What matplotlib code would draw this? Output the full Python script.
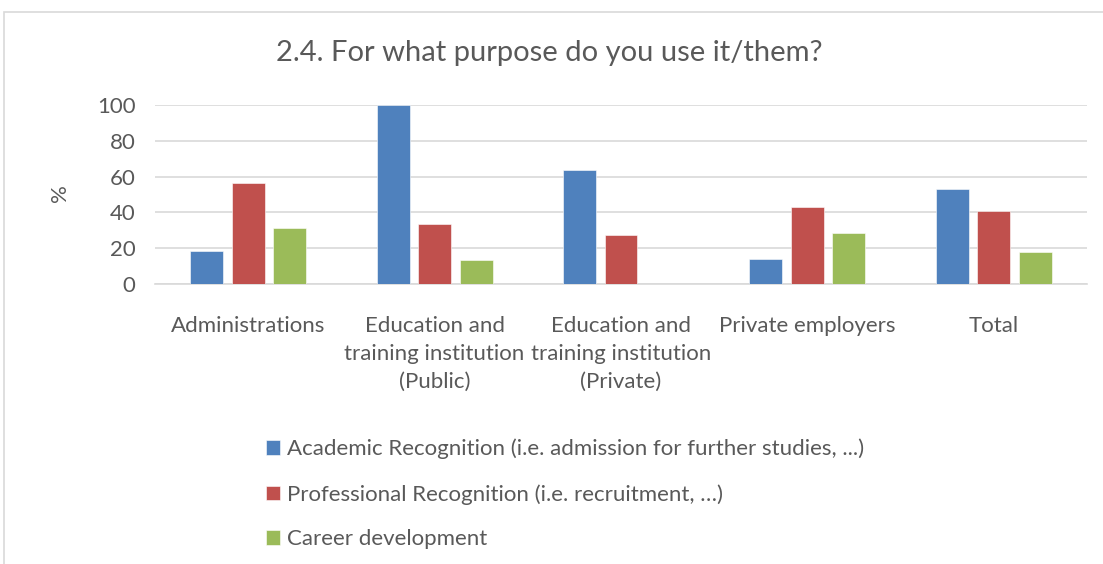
import matplotlib
matplotlib.use("Agg")
import matplotlib.pyplot as plt
import numpy as np
from matplotlib.patches import Rectangle

categories = ["Administrations", "Education and\ntraining institution\n(Public)",
              "Education and\ntraining institution\n(Private)", "Private employers", "Total"]
series_names = ["Academic Recognition (i.e. admission for further studies, ...)",
                "Professional Recognition (i.e. recruitment, \u2026)",
                "Career development"]
academic = [18.75, 100, 63.6, 14.3, 52.9]
professional = [56.25, 33.3, 27.3, 42.9, 40.6]
career = [31.25, 13.3, 0, 28.6, 18.0]
yticks = [0, 20, 40, 60, 80, 100]

colors = ["#4F81BD", "#C0504D", "#9BBB59"]
txt = "#595959"
plt.rcParams['font.family'] = ['Lato', 'DejaVu Sans']

fig = plt.figure(figsize=(11.03, 5.64), dpi=100)
fig.patches.append(Rectangle((4/1103, -1), 2, 2 - 12/564, transform=fig.transFigure,
                             fill=False, edgecolor="#D9D9D9", linewidth=1.2))
ax = fig.add_axes([155/1103, 1 - 284.3/564, 932/1103, 179.6/564])

x = np.arange(len(categories))
w = 0.177
step = 0.223
for i, (vals, name) in enumerate(zip([academic, professional, career], series_names)):
    ax.bar(x + (i - 1) * step, vals, w, color=colors[i], label=name,
           edgecolor="white", linewidth=0.4, zorder=3)

ax.set_xlim(-0.5, len(categories) - 0.5)
ax.set_ylim(0, 100)
ax.set_yticks(yticks)
ax.yaxis.grid(True, color="#D9D9D9", linewidth=1.2, zorder=0)
ax.set_axisbelow(True)
for s in ["top", "right", "left"]:
    ax.spines[s].set_visible(False)
ax.spines["bottom"].set_color("#D9D9D9")
ax.spines["bottom"].set_linewidth(1.2)
ax.tick_params(axis="both", length=0, labelsize=16, colors=txt)
ax.tick_params(axis="y", pad=14)
ax.tick_params(axis="x", pad=23)
ax.set_xticks(x)
ax.set_xticklabels(categories, linespacing=1.48)
fig.text(60/1103, 1 - 193/564, "%", rotation=90, fontsize=16, color=txt,
         ha="center", va="center")
fig.text(549/1103, 1 - 53/564, "2.4. For what purpose do you use it/them?",
         fontsize=21, color=txt, ha="center", va="center")

leg = fig.legend(loc="upper left", bbox_to_anchor=(257/1103, 1 - 430/564), frameon=False,
                 fontsize=16, handlelength=0.62, handleheight=0.62, handletextpad=0.35,
                 labelspacing=1.11, borderaxespad=0)
for t in leg.get_texts():
    t.set_color(txt)

fig.savefig("out.png", dpi=100)
